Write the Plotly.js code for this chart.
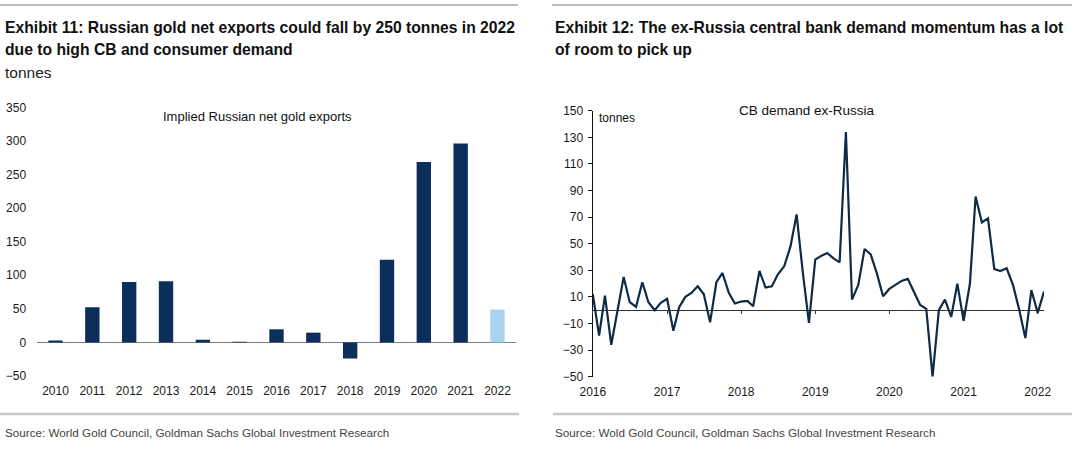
<!DOCTYPE html>
<html>
<head>
<meta charset="utf-8">
<script src="https://cdn.plot.ly/plotly-3.0.1.min.js"></script>
<style>
  html, body { margin: 0; padding: 0; background: #ffffff; }
  #chart { width: 1080px; height: 450px; }
</style>
</head>
<body>
<div id="chart"></div>
<script>
// ---------- Data: Exhibit 11 ----------
const exportYears = ['2010','2011','2012','2013','2014','2015','2016','2017','2018','2019','2020','2021','2022'];
const exportTonnes = [3, 52.5, 90, 91, 4, 1, 19.5, 14.5, -24, 123, 268.5, 296, 49];
const projectedYear = '2022';

// ---------- Data: Exhibit 12 (monthly, Jan 2016 - Feb 2022) ----------
const cbStartYear = 2016;
const cbDemand = [
  12, -19, 11, -26, -1, 25, 6, 2.5, 21, 6, 0, 5.5,
  8.5, -15.5, 2, 10, 13, 18, 12, -9, 21, 28, 13, 5,
  6.5, 7, 3, 29.5, 17, 18, 27, 33, 48, 72, 28, -9.5,
  38, 41, 43, 39, 36, 134, 8, 19, 46, 42, 27.5, 10.5,
  16, 19, 22, 23.5, 14, 4, 1, -50, 0, 8, -5, 20,
  -8, 20, 85.5, 66, 69, 31, 29.5, 31.5, 19, 1, -21, 15,
  -2, 14
];
const cbYearTicks = ['2016','2017','2018','2019','2020','2021','2022'];

// month dates for the CB series
const cbMonths = cbDemand.map((_, i) => {
  const y = cbStartYear + Math.floor(i / 12);
  const m = (i % 12) + 1;
  return y + '-' + String(m).padStart(2, '0') + '-01';
});
const cbTickDates = cbYearTicks.map(y => y + '-01-01');

// ---------- Layout helpers (pixel -> paper) ----------
const W = 1080, H = 450;
const px = x => x / W;
const py = y => 1 - y / H;

const darkNavy = '#0b2f5a';
const lightBlue = '#a8d4f0';
const lineNavy = '#0d2a47';
const sans = 'Liberation Sans, Arial, sans-serif';
const axisFont = { family: sans, size: 12, color: '#1a1a1a' };
const titleFont = { family: sans, size: 15.7, color: '#111111' };

const leftYRange = [-50, 350];
const rightYRange = [-50, 150];
const rightYDomain = [py(376.7), py(110.7)];
const zeroFrac = rightYDomain[0] + (0 - rightYRange[0]) / (rightYRange[1] - rightYRange[0]) * (rightYDomain[1] - rightYDomain[0]);
const rightXRange = [cbMonths[0], cbMonths[cbMonths.length - 1]];

const traces = [
  {
    type: 'bar',
    x: exportYears,
    y: exportTonnes,
    xaxis: 'x', yaxis: 'y',
    width: 0.39,
    marker: { color: exportYears.map(y => y === projectedYear ? lightBlue : darkNavy), line: { width: 0 } },
    hoverinfo: 'x+y',
    showlegend: false
  },
  {
    type: 'scatter',
    mode: 'lines',
    x: cbMonths,
    y: cbDemand,
    xaxis: 'x2', yaxis: 'y2',
    line: { color: lineNavy, width: 2.2 },
    showlegend: false
  },
  {
    // carrier trace for the zero-line tick axis
    type: 'scatter',
    mode: 'lines',
    x: cbMonths,
    y: cbDemand,
    xaxis: 'x3', yaxis: 'y2',
    line: { width: 0 },
    opacity: 0,
    hoverinfo: 'skip',
    showlegend: false
  }
];

function note(x, y, text, font, anchor) {
  return {
    xref: 'paper', yref: 'paper', x: px(x), y: py(y),
    xanchor: anchor || 'left', yanchor: 'middle', align: 'left',
    text: text, showarrow: false, font: font
  };
}

const layout = {
  width: W, height: H,
  margin: { l: 0, r: 0, t: 0, b: 0 },
  paper_bgcolor: '#ffffff',
  plot_bgcolor: 'rgba(0,0,0,0)',
  font: axisFont,
  showlegend: false,
  xaxis: {
    domain: [px(37.1), px(515.9)],
    type: 'category',
    showgrid: false, zeroline: false, showline: false,
    ticks: '', tickfont: axisFont,
    ticklabelstandoff: 6,
    fixedrange: true
  },
  yaxis: {
    domain: [py(376), py(107.3)],
    range: leftYRange,
    dtick: 50, tick0: 0,
    showgrid: false, showline: false,
    zeroline: true, zerolinecolor: '#7f7f7f', zerolinewidth: 1.6,
    ticks: '', tickfont: axisFont,
    ticklabelstandoff: 10,
    fixedrange: true
  },
  xaxis2: {
    domain: [px(592.8), px(1044)],
    type: 'date',
    range: rightXRange,
    anchor: 'y2',
    tickvals: cbTickDates, ticktext: cbYearTicks,
    showgrid: false, zeroline: false, showline: false,
    ticks: '', tickfont: axisFont,
    ticklabelstandoff: 6,
    fixedrange: true
  },
  xaxis3: {
    overlaying: 'x2',
    anchor: 'free',
    position: zeroFrac,
    type: 'date',
    range: rightXRange,
    tickvals: cbTickDates,
    showticklabels: false,
    ticks: 'outside', ticklen: 3, tickwidth: 1, tickcolor: '#333333',
    showgrid: false, zeroline: false, showline: false,
    fixedrange: true
  },
  yaxis2: {
    domain: rightYDomain,
    anchor: 'x2',
    range: rightYRange,
    tick0: 10, dtick: 20,
    showgrid: false,
    showline: true, linecolor: '#111111', linewidth: 1.2,
    zeroline: true, zerolinecolor: '#333333', zerolinewidth: 1.3,
    ticks: 'outside', ticklen: 4, tickcolor: '#111111', tickwidth: 1,
    tickfont: axisFont,
    ticklabelstandoff: 2,
    fixedrange: true
  },
  shapes: [
    { type: 'line', xref: 'paper', yref: 'paper', x0: px(0), x1: px(518), y0: py(5), y1: py(5), line: { color: '#a6a6a6', width: 1.5 } },
    { type: 'line', xref: 'paper', yref: 'paper', x0: px(552), x1: px(1072), y0: py(5), y1: py(5), line: { color: '#a6a6a6', width: 1.5 } },
    { type: 'line', xref: 'paper', yref: 'paper', x0: px(0), x1: px(519), y0: py(414), y1: py(414), line: { color: '#c8c8c8', width: 2.5 } },
    { type: 'line', xref: 'paper', yref: 'paper', x0: px(553), x1: px(1072), y0: py(414), y1: py(414), line: { color: '#c8c8c8', width: 2.5 } }
  ],
  annotations: [
    note(3, 27, '<b>Exhibit 11: Russian gold net exports could fall by 250 tonnes in 2022</b>', titleFont),
    note(3, 49, '<b>due to high CB and consumer demand</b>', titleFont),
    note(3, 72, 'tonnes', { family: sans, size: 15.5, color: '#222222' }),
    note(553, 27, '<b>Exhibit 12: The ex-Russia central bank demand momentum has a lot</b>', titleFont),
    note(553, 49, '<b>of room to pick up</b>', titleFont),
    note(257, 116.7, 'Implied Russian net gold exports', { family: sans, size: 13, color: '#111111' }, 'center'),
    note(807, 110.7, 'CB demand ex-Russia', { family: sans, size: 13.5, color: '#111111' }, 'center'),
    note(597, 118, 'tonnes', { family: sans, size: 12, color: '#111111' }),
    note(3, 432, 'Source: World Gold Council, Goldman Sachs Global Investment Research', { family: sans, size: 11.7, color: '#444444' }),
    note(553, 432, 'Source: Wold Gold Council, Goldman Sachs Global Investment Research', { family: sans, size: 11.7, color: '#444444' })
  ]
};

Plotly.newPlot('chart', traces, layout, { displayModeBar: false, staticPlot: true });
</script>
</body>
</html>
